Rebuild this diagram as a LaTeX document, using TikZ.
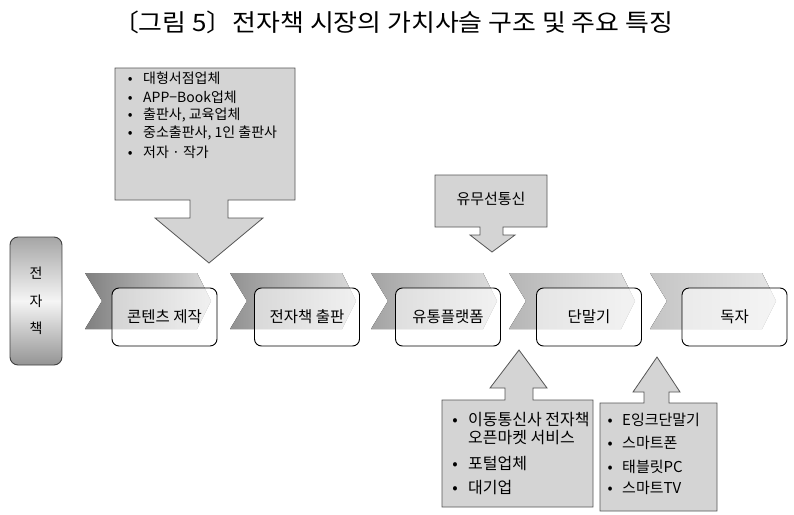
\documentclass[tikz,border=0pt]{standalone}
\usepackage{fontspec}
\setmainfont{Noto Sans CJK KR}
\definecolor{callfill}{HTML}{D4D4D4}
\definecolor{calledge}{HTML}{555555}
\begin{document}
\begin{tikzpicture}[x=1pt,y=-1pt,
  stagebox/.style={draw=black, line width=0.9pt, rounded corners=7pt, fill=white, fill opacity=0.6, text opacity=1,
    minimum width=105pt, minimum height=58pt, inner sep=0pt, font=\fontsize{15.5}{18}\selectfont},
  callout/.style={fill=callfill, draw=calledge, line width=0.8pt},
  itemtext/.style={anchor=west, inner sep=0pt, font=\fontsize{14}{16}\selectfont},
  itembig/.style={anchor=west, inner sep=0pt, font=\fontsize{16}{18}\selectfont},
  itemmid/.style={anchor=west, inner sep=0pt, font=\fontsize{15}{18}\selectfont}]
\useasboundingbox (0,0) rectangle (794,514);

% title
\node[font=\fontsize{24}{26}\selectfont, inner sep=0pt] (title) at (393,22) {\scalebox{1.08}[1]{〔그림 5〕전자책 시장의 가치사슬 구조 및 주요 특징}};

% left box
\node[draw=black!75, line width=0.9pt, rounded corners=8pt, top color=black!35, bottom color=black!42, middle color=black!4,
  minimum width=52pt, minimum height=128pt, align=center, inner sep=0pt,
  font=\fontsize{14}{27.5}\selectfont] (ebook) at (36,301) {전\\자\\책};

% chevrons
\foreach \x/\cl/\cr in {85/black!50/black!14, 230/black!43/black!14, 371/black!36/black!13, 509/black!29/black!12, 650/black!23/black!10}{
  \fill[left color=\cl, right color=\cr] (\x,273) -- (\x+112,273) -- (\x+126,301) -- (\x+112,329) -- (\x,329) -- (\x+17,301) -- cycle;
}

% stage boxes
\node[stagebox] (s1) at (164.5,317) {콘텐츠 제작};
\node[stagebox] (s2) at (307,317) {전자책 출판};
\node[stagebox] (s3) at (448,317) {유통플랫폼};
\node[stagebox] (s4) at (589,317) {단말기};
\node[stagebox] (s5) at (734.5,317) {독자};

% top callout
\filldraw[callout] (115,68) -- (295,68) -- (295,200) -- (228,200) -- (228,218) -- (263,218) -- (209,263)
  -- (155,218) -- (190,218) -- (190,200) -- (115,200) -- cycle;
\node[itemtext] (t1) at (124,78) {\makebox[12pt]{•}\hspace{7pt}대형서점업체};
\node[itemtext] (t2) at (124,97) {\makebox[12pt]{•}\hspace{7pt}APP−Book업체};
\node[itemtext] (t3) at (124,115) {\makebox[12pt]{•}\hspace{7pt}출판사, 교육업체};
\node[itemtext] (t4) at (124,133.5) {\makebox[12pt]{•}\hspace{7pt}중소출판사, 1인 출판사};
\node[itemtext] (t5) at (124,152) {\makebox[12pt]{•}\hspace{7pt}저자 · 작가};

% wired/wireless callout
\filldraw[callout] (435,175) -- (547,175) -- (547,227) -- (503,227) -- (503,235) -- (515,235) -- (492,252)
  -- (470,235) -- (480,235) -- (480,227) -- (435,227) -- cycle;
\node[font=\fontsize{15}{18}\selectfont, inner sep=0pt] (net) at (491,199) {유무선통신};

% bottom callout 1
\filldraw[callout] (442,400) -- (505,400) -- (505,388) -- (490,388) -- (519,350) -- (547,388) -- (533,388)
  -- (533,400) -- (593,400) -- (593,507) -- (442,507) -- cycle;
\node[itembig] (b1) at (449,420) {\makebox[12pt]{•}\hspace{7pt}이동통신사 전자책};
\node[itembig] (b1b) at (468,438) {오픈마켓 서비스};
\node[itembig] (b2) at (449,463) {\makebox[12pt]{•}\hspace{7pt}포털업체};
\node[itembig] (b3) at (449,487) {\makebox[12pt]{•}\hspace{7pt}대기업};

% bottom callout 2
\filldraw[callout] (600,403) -- (644,403) -- (644,392) -- (633,392) -- (657,357) -- (680,392) -- (669,392)
  -- (669,403) -- (717,403) -- (717,511) -- (600,511) -- cycle;
\node[itemmid] (d1) at (604,420) {\makebox[12pt]{•}\hspace{6pt}E잉크단말기};
\node[itemmid] (d2) at (604,443) {\makebox[12pt]{•}\hspace{6pt}스마트폰};
\node[itemmid] (d3) at (604,467) {\makebox[12pt]{•}\hspace{6pt}태블릿PC};
\node[itemmid] (d4) at (604,488) {\makebox[12pt]{•}\hspace{6pt}스마트TV};
\end{tikzpicture}
\end{document}
